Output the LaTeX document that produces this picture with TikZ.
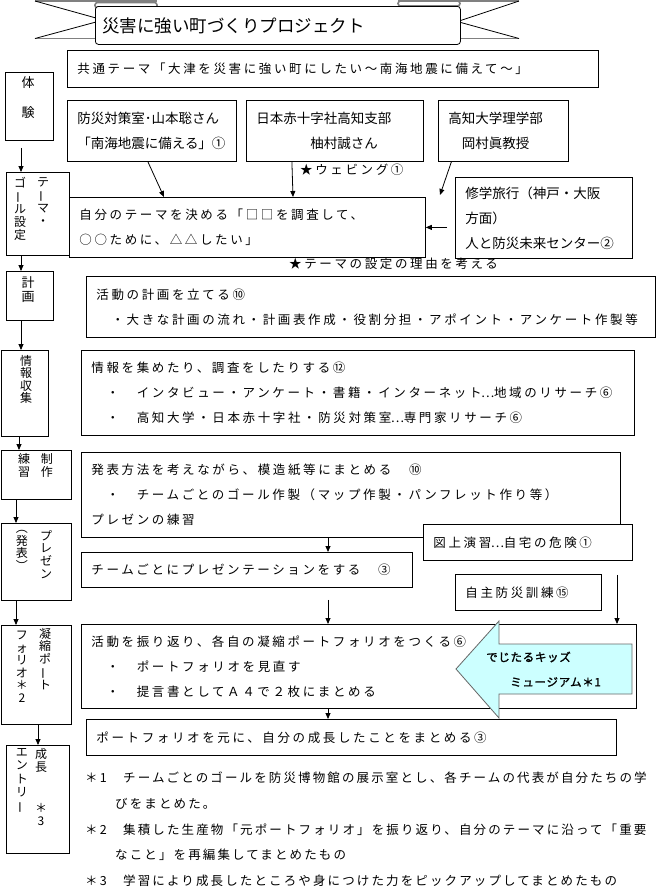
\documentclass[tikz,border=0pt]{standalone}
\usepackage{fontspec}
\usepackage{graphicx}
\setmainfont{Noto Sans CJK JP}
\newfontfamily\jpn{Noto Sans CJK JP}
\newfontfamily\jpsp{Noto Sans CJK JP}[LetterSpace=21]
\newfontfamily\jpnote{Noto Sans CJK JP}[LetterSpace=17]
\newfontfamily\jpbf{Noto Sans CJK JP}[FakeBold=1.5,LetterSpace=6]
\usetikzlibrary{arrows.meta,positioning}
\definecolor{kidsblue}{HTML}{CCFFFF}
\newcommand{\tbar}{\rotatebox[origin=c]{90}{ー}}
\newcommand{\tdots}{\makebox[12.5pt][c]{…}}

\tikzset{
  txtbox/.style={draw, line width=0.8pt, fill=white, anchor=north west,
    inner xsep=10pt, inner ysep=0pt, align=left,
    font=\jpsp\fontsize{12.5}{25}\selectfont},
  namebox/.style={txtbox, font=\jpn\fontsize{13.5}{25}\selectfont},
  stepbox/.style={draw, line width=0.8pt, fill=white, anchor=north west, inner sep=0pt},
  tate/.style={anchor=north, inner sep=0pt, align=center,
    font=\jpn\fontsize{12}{13}\selectfont},
  arr/.style={line width=0.8pt, -{Triangle[width=5pt,length=6pt]}},
  notetext/.style={anchor=west, inner sep=0pt, font=\jpsp\fontsize{12.5}{25}\selectfont},
  ribbon/.style={draw=black!50, line width=1.6pt},
}

\begin{document}
\begin{tikzpicture}[x=1pt, y=-1pt]
  \useasboundingbox (0,0) rectangle (665,887);

  % banner
  \draw[ribbon] (35,1) -- (157,1);
  \draw[ribbon] (398,1) -- (519,1);
  \draw[ribbon] (35,38.5) -- (95,38.5);
  \draw[ribbon] (460,38.5) -- (519,38.5);
  \draw[line width=0.8pt] (35,1) -- (96,18) (35,38.5) -- (96,22);
  \draw[line width=0.8pt] (519,1) -- (459,21) (519,38.5) -- (459,22);
  \draw[ribbon, fill=white, rounded corners=2.5pt] (95,2.5) rectangle (157,8);
  \draw[ribbon, fill=white, rounded corners=2.5pt] (398,1) rectangle (460,6);
  \node[draw, line width=0.8pt, fill=white, rounded corners=3pt, anchor=north west,
    minimum height=38pt, inner xsep=7pt, inner ysep=0pt, text width=351pt, align=left,
    font=\jpn\fontsize{17.5}{20}\selectfont] (title) at (95,6) {災害に強い町づくりプロジェクト};

  % right column
  \node[txtbox, text width=511pt, minimum height=37pt] (kyotsu) at (67,50)
    {共通テーマ「大津を災害に強い町にしたい～南海地震に備えて～」};
  \node[namebox, text width=149pt, minimum height=61pt] (bosai) at (67,100)
    {防災対策室･山本聡さん\\「南海地震に備える」①};
  \node[namebox, text width=157pt, minimum height=61pt] (sekijuji) at (246,100)
    {日本赤十字社高知支部\\　　　　柚村誠さん};
  \node[namebox, text width=110pt, minimum height=61pt] (kochidai) at (438,100)
    {高知大学理学部\\　岡村眞教授};
  \node[notetext] (webbing) at (300,170) {★ウェビング①};
  \node[txtbox, text width=336pt, minimum height=60pt] (jibun) at (69,197)
    {自分のテーマを決める「□□を調査して、\\○○ために、△△したい」};
  \node[namebox, text width=157pt, minimum height=81pt] (shugaku) at (455,177)
    {修学旅行（神戸・大阪\\方面）\\人と防災未来センター②};
  \node[notetext] (riyu) at (289,264) {★テーマの設定の理由を考える};
  \node[txtbox, text width=549pt, minimum height=61pt] (plan) at (86,276)
    {活動の計画を立てる⑩\\　・大きな計画の流れ・計画表作成・役割分担・アポイント・アンケート作製等};
  \node[txtbox, text width=533pt, minimum height=85pt] (joho) at (81,350)
    {情報を集めたり、調査をしたりする⑫\\　・　インタビュー・アンケート・書籍・インターネット\tdots 地域のリサーチ⑥\\　・　高知大学・日本赤十字社・防災対策室\tdots 専門家リサーチ⑥};
  \node[txtbox, text width=519pt, minimum height=85pt] (happyo) at (81,452)
    {発表方法を考えながら、模造紙等にまとめる　⑩\\　・　チームごとのゴール作製（マップ作製・パンフレット作り等）\\プレゼンの練習};
  \node[txtbox, text width=189pt, minimum height=36pt] (zujo) at (423,524) {図上演習\tdots 自宅の危険①};
  \node[txtbox, text width=311pt, minimum height=35pt] (team) at (81,552) {チームごとにプレゼンテーションをする　③};
  \node[txtbox, text width=126pt, minimum height=36pt] (jishu) at (455,574) {自主防災訓練⑮};
  \node[txtbox, text width=535pt, minimum height=84pt] (furikaeri) at (81,624)
    {活動を振り返り、各自の凝縮ポートフォリオをつくる⑥\\　・　ポートフォリオを見直す\\　・　提言書としてＡ４で２枚にまとめる};
  \node[txtbox, text width=510pt, minimum height=36pt] (moto) at (86,719)
    {ポートフォリオを元に、自分の成長したことをまとめる③};

  % kids museum arrow
  \draw[draw=black!60, fill=kidsblue, line width=0.8pt] (456,669) -- (499,621) -- (499,644)
    -- (632,644) -- (632,694) -- (499,694) -- (499,718) -- cycle;
  \node[anchor=west, inner sep=0pt, font=\jpbf\fontsize{11.5}{14}\selectfont] (kids1) at (486,657) {でじたるキッズ};
  \node[anchor=west, inner sep=0pt, font=\jpbf\fontsize{11.5}{14}\selectfont] (kids2) at (510,682) {ミュージアム＊1};

  % left column
  \node[stepbox, minimum width=48pt, minimum height=68pt] (taiken) at (5,72) {};
  \node[stepbox, minimum width=63pt, minimum height=83pt] (themegoal) at (6,172) {};
  \node[stepbox, minimum width=47pt, minimum height=49pt] (keikaku) at (6,271) {};
  \node[stepbox, minimum width=47pt, minimum height=86pt] (shushu) at (1,350) {};
  \node[stepbox, minimum width=70pt, minimum height=49pt] (renshu) at (1,450) {};
  \node[stepbox, minimum width=70pt, minimum height=77pt] (presen) at (1,523) {};
  \node[stepbox, minimum width=70pt, minimum height=99pt] (gyoshuku) at (1,625) {};
  \node[stepbox, minimum width=63pt, minimum height=108pt] (seicho) at (6,745) {};

  \node[tate, font=\jpn\fontsize{13}{30}\selectfont] (taiken-t) at (28,76) {体\\験};
  \node[tate] (themegoal-r) at (43,177) {テ\\\tbar\\マ\\・};
  \node[tate] (themegoal-l) at (20,177) {ゴ\\\tbar\\ル\\設\\定};
  \node[tate, font=\jpn\fontsize{13}{14.5}\selectfont] (keikaku-t) at (28,276) {計\\画};
  \node[tate, font=\jpn\fontsize{12}{12.5}\selectfont] (shushu-t) at (26,355) {情\\報\\収\\集};
  \node[tate] (renshu-r) at (47,453) {制\\作};
  \node[tate] (renshu-l) at (24,453) {練\\習};
  \node[tate, font=\jpn\fontsize{12}{12.7}\selectfont] (presen-r) at (46,530) {プ\\レ\\ゼ\\ン};
  \node[tate, font=\jpn\fontsize{12}{12.7}\selectfont] (presen-l) at (22,530) {︵\\発\\表\\︶};
  \node[tate, font=\jpn\fontsize{12}{12.5}\selectfont] (gyoshuku-r) at (45,628) {凝\\縮\\ポ\\\tbar\\ト};
  \node[tate, font=\jpn\fontsize{12}{12.5}\selectfont] (gyoshuku-l) at (22,631) {フ\\ォ\\リ\\オ\\＊\\2};
  \node[tate, font=\jpn\fontsize{12}{13.5}\selectfont] (seicho-r) at (41,748) {成\\長\\\mbox{}\\\mbox{}\\＊\\3};
  \node[tate, font=\jpn\fontsize{12}{13.5}\selectfont] (seicho-l) at (22,748) {エ\\ン\\ト\\リ\\\tbar};

  % connectors
  \coordinate (lx) at (21,0);
  \coordinate (lx2) at (19,0);
  \coordinate (lx3) at (16,0);
  \coordinate (lx4) at (38,0);
  \draw[arr, shorten <=7pt] (taiken.south -| lx) -- (themegoal.north -| lx);
  \draw[arr] (themegoal.south -| lx) -- (keikaku.north -| lx);
  \draw[arr] (keikaku.south -| lx) -- (shushu.north -| lx);
  \draw[arr] (shushu.south -| lx2) -- (renshu.north -| lx2);
  \draw[arr] (renshu.south -| lx3) -- (presen.north -| lx3);
  \draw[arr] (presen.south -| lx3) -- (gyoshuku.north -| lx3);
  \draw[arr] (gyoshuku.south -| lx4) -- (seicho.north -| lx4);

  \draw[arr] ([xshift=-4pt]bosai.south) -- ([xshift=95pt]jibun.north west);
  \draw[arr] ([xshift=-43pt]sekijuji.south) -- ([xshift=224pt]jibun.north west);
  \coordinate (kochi-end) at (440,195);
  \draw[arr] ([xshift=-52pt]kochidai.south) -- (kochi-end);
  \coordinate (shu-w) at ([xshift=-8pt]shugaku.west);
  \draw[arr] (shu-w |- jibun.east) -- (jibun.east);

  \coordinate (cx) at (328,0);
  \coordinate (rx) at (617,0);
  \draw[arr] (happyo.south -| cx) -- (team.north -| cx);
  \draw[arr, shorten <=12pt] (team.south -| cx) -- (furikaeri.north -| cx);
  \draw[arr] (furikaeri.south -| cx) -- (moto.north -| cx);
  \draw[arr, shorten <=14pt] (zujo.south -| rx) -- (furikaeri.north -| rx);

  % notes
  \node[anchor=north west, inner sep=0pt, align=left, font=\jpnote\fontsize{12.5}{25.6}\selectfont] (notes) at (85,772)
    {\makebox[38pt][l]{＊1}チームごとのゴールを防災博物館の展示室とし、各チームの代表が自分たちの学\\
     \hspace*{30pt}びをまとめた。\\
     \makebox[38pt][l]{＊2}集積した生産物「元ポートフォリオ」を振り返り、自分のテーマに沿って「重要\\
     \hspace*{30pt}なこと」を再編集してまとめたもの\\
     \makebox[38pt][l]{＊3}学習により成長したところや身につけた力をピックアップしてまとめたもの};
\end{tikzpicture}
\end{document}
